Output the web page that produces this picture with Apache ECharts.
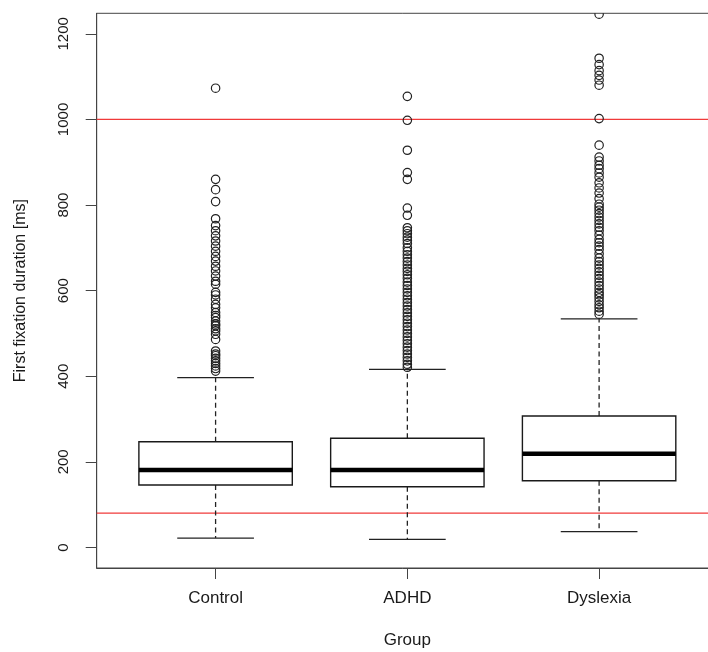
<!DOCTYPE html>
<html>
<head>
<meta charset="utf-8">
<script src="https://cdn.jsdelivr.net/npm/echarts@6/dist/echarts.min.js"></script>
<style>
  html, body { margin: 0; padding: 0; background: #ffffff; }
  #chart { width: 708px; height: 652px; }
</style>
</head>
<body>
<div id="chart"></div>
<script>
// Groups on the x axis
const groups = ['Control', 'ADHD', 'Dyslexia'];

// Box summaries per group (ms): lower whisker, Q1, median, Q3, upper whisker
const boxLow    = [22, 19, 37];
const boxQ1     = [146, 142, 156];
const boxMedian = [181, 181, 219];
const boxQ3     = [247, 255, 307];
const boxHigh   = [397, 416, 534];

// Outlying first fixation durations (ms)
const outControl = [1073, 860, 836, 808, 768, 752, 740, 728, 716, 704, 692, 680, 669, 657,
  646, 634, 622, 615, 596, 590, 580, 568, 560, 549, 542, 537, 529, 522, 518, 511, 506, 498,
  486, 459, 452, 448, 442, 436, 430, 424, 418, 412];
const outADHD = [1054, 998, 928, 876, 860, 793, 776, 747, 740, 733, 725, 718, 710, 700, 692,
  684, 676, 668, 660, 652, 645, 637, 629, 620, 612, 604, 596, 588, 580, 572, 564, 556, 548,
  540, 532, 524, 516, 508, 500, 492, 484, 476, 468, 460, 452, 444, 436, 428, 421];
const outDyslexia = [1246, 1143, 1128, 1114, 1103, 1092, 1080, 1002, 940, 912, 903, 893, 885,
  875, 865, 852, 840, 828, 815, 802, 795, 788, 780, 772, 764, 756, 748, 740, 730, 720, 712,
  704, 696, 686, 676, 668, 660, 652, 644, 636, 628, 620, 612, 604, 596, 590, 583, 575, 567,
  560, 552, 545];

// Horizontal reference lines (ms)
const refLines = [80, 1000];

// Y axis tick values
const yTicks = [0, 200, 400, 600, 800, 1000, 1200];

const boxData = groups.map((g, i) => [i + 1, boxLow[i], boxQ1[i], boxMedian[i], boxQ3[i], boxHigh[i]]);
const outlierData = [];
[outControl, outADHD, outDyslexia].forEach((arr, i) => {
  arr.forEach(v => outlierData.push([i + 1, v]));
});
const refData = refLines.map(v => [2, v]);

const textColor = '#1a1a1a';
const frameColor = '#444444';
const fontFamily = '"Liberation Sans", Arial, sans-serif';

function renderBox(params, api) {
  const x = api.value(0);
  const lo = api.coord([x, api.value(1)]);
  const q1 = api.coord([x, api.value(2)]);
  const md = api.coord([x, api.value(3)]);
  const q3 = api.coord([x, api.value(4)]);
  const hi = api.coord([x, api.value(5)]);
  const cx = lo[0];
  const hw = api.size([0.4, 0])[0];
  const sw = hw / 2;
  const dash = { stroke: '#222222', lineWidth: 1.3, lineDash: [5, 3.5] };
  const solid = { stroke: '#222222', lineWidth: 1.3 };
  return {
    type: 'group',
    children: [
      { type: 'line', shape: { x1: cx, y1: q3[1], x2: cx, y2: hi[1] }, style: dash },
      { type: 'line', shape: { x1: cx, y1: q1[1], x2: cx, y2: lo[1] }, style: dash },
      { type: 'line', shape: { x1: cx - sw, y1: hi[1], x2: cx + sw, y2: hi[1] }, style: solid },
      { type: 'line', shape: { x1: cx - sw, y1: lo[1], x2: cx + sw, y2: lo[1] }, style: solid },
      { type: 'rect', shape: { x: cx - hw, y: q3[1], width: 2 * hw, height: q1[1] - q3[1] },
        style: { fill: '#ffffff', stroke: '#1a1a1a', lineWidth: 1.4 } },
      { type: 'line', shape: { x1: cx - hw, y1: md[1], x2: cx + hw, y2: md[1] },
        style: { stroke: '#000000', lineWidth: 4.5 } }
    ]
  };
}

function renderOutlier(params, api) {
  const p = api.coord([api.value(0), api.value(1)]);
  return {
    type: 'circle',
    shape: { cx: p[0], cy: p[1], r: 4.2 },
    style: { fill: 'none', stroke: '#222222', lineWidth: 1.2 }
  };
}

// Reference lines run across the full plotting area
function renderRef(params, api) {
  const p = api.coord([api.value(0), api.value(1)]);
  const cs = params.coordSys;
  return {
    type: 'line',
    shape: { x1: cs.x, y1: p[1], x2: cs.x + cs.width, y2: p[1] },
    style: { stroke: '#f03a3a', lineWidth: 1.2 }
  };
}

const chart = echarts.init(document.getElementById('chart'), null, { renderer: 'canvas' });
chart.setOption({
  animation: false,
  backgroundColor: '#ffffff',
  grid: {
    left: 96.7, right: -10, top: 13.3, bottom: 84,
    show: true, borderColor: frameColor, borderWidth: 1, backgroundColor: 'transparent',
    containLabel: false, outerBoundsMode: 'none'
  },
  xAxis: {
    type: 'value', min: 0.38, max: 3.62,
    splitLine: { show: false },
    axisLine: { show: true, onZero: false, lineStyle: { color: frameColor } },
    axisTick: { show: true, customValues: [1, 2, 3], length: 11, lineStyle: { color: frameColor } },
    axisLabel: {
      customValues: [1, 2, 3],
      formatter: v => groups[Math.round(v) - 1],
      fontSize: 17, color: textColor, margin: 22, fontFamily
    },
    name: 'Group', nameLocation: 'middle', nameGap: 64,
    nameTextStyle: { fontSize: 17, color: textColor, fontFamily }
  },
  yAxis: {
    type: 'value', min: -48, max: 1248,
    splitLine: { show: false },
    axisLine: { show: true, onZero: false, lineStyle: { color: frameColor } },
    axisTick: { show: true, customValues: yTicks, length: 11, lineStyle: { color: frameColor } },
    axisLabel: {
      customValues: yTicks, rotate: 90,
      formatter: v => String(v),
      fontSize: 15, color: textColor, margin: 25, fontFamily
    },
    name: 'First fixation duration [ms]', nameLocation: 'middle', nameGap: 68,
    nameTextStyle: { fontSize: 16, color: textColor, fontFamily }
  },
  series: [
    {
      type: 'custom',
      name: 'reference',
      data: refData,
      renderItem: renderRef,
      encode: { x: 0, y: 1 },
      clip: true,
      silent: true,
      z: 2
    },
    {
      type: 'custom',
      name: 'boxes',
      data: boxData,
      renderItem: renderBox,
      encode: { x: 0, y: [1, 2, 3, 4, 5] },
      clip: true,
      silent: true,
      z: 3
    },
    {
      type: 'custom',
      name: 'outliers',
      data: outlierData,
      renderItem: renderOutlier,
      encode: { x: 0, y: 1 },
      clip: true,
      silent: true,
      z: 4
    }
  ]
});
</script>
</body>
</html>
